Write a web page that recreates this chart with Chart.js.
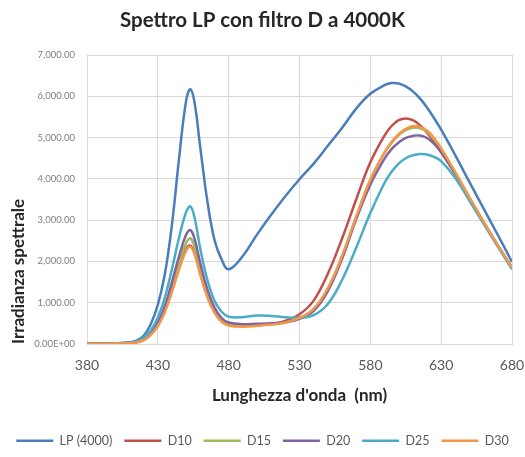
<!DOCTYPE html>
<html>
<head>
<meta charset="utf-8">
<script src="https://cdn.jsdelivr.net/npm/chart.js@4"></script>
<style>
  html, body { margin: 0; padding: 0; background: #ffffff; }
  canvas { display: block; }
</style>
</head>
<body>
<canvas id="spettroChart" width="525" height="457"></canvas>
<script>
// lunghezze d'onda (nm)
const wavelengths = [380, 390, 400, 410, 415, 420, 425, 430, 435, 440, 445, 450, 453, 456, 460, 465, 470, 475, 480,
  490, 500, 510, 520, 530, 540, 550, 560, 570, 580, 590, 595, 600, 605, 610, 615, 620, 625, 630, 640, 650, 660, 670, 680];

const lp4000 = [10, 10, 15, 40, 80, 200, 480, 950, 1700, 2900, 4500, 5900, 6170, 5830, 4750, 3450, 2520, 2050, 1810,
  2130, 2650, 3130, 3580, 3990, 4370, 4800, 5230, 5700, 6060, 6270, 6320, 6310, 6240, 6120, 5950, 5730, 5470, 5190, 4570, 3920, 3280, 2640, 1990];
const d10 = [5, 5, 10, 20, 40, 100, 230, 450, 800, 1300, 1850, 2300, 2380, 2200, 1700, 1150, 780, 560, 470,
  440, 460, 490, 560, 720, 1050, 1700, 2550, 3500, 4400, 5050, 5280, 5420, 5460, 5420, 5300, 5120, 4900, 4640, 4120, 3520, 2940, 2380, 1860];
const d15 = [5, 5, 10, 20, 45, 110, 250, 480, 850, 1380, 1970, 2450, 2560, 2350, 1800, 1220, 820, 590, 490,
  455, 470, 480, 520, 620, 840, 1340, 2120, 3080, 3980, 4630, 4870, 5060, 5180, 5240, 5230, 5140, 4960, 4720, 4150, 3540, 2950, 2390, 1850];
const d20 = [5, 5, 10, 25, 50, 120, 270, 520, 920, 1500, 2130, 2650, 2760, 2540, 1950, 1320, 880, 630, 520,
  480, 490, 500, 530, 610, 800, 1280, 2060, 3020, 3860, 4490, 4720, 4880, 4990, 5040, 5050, 4990, 4850, 4650, 4120, 3520, 2940, 2380, 1830];
const d25 = [5, 5, 12, 30, 60, 150, 330, 640, 1130, 1820, 2580, 3200, 3330, 3050, 2300, 1550, 1050, 780, 660,
  650, 690, 680, 650, 640, 700, 970, 1550, 2330, 3170, 3900, 4170, 4370, 4500, 4570, 4600, 4590, 4530, 4430, 4020, 3470, 2910, 2360, 1810];
const d30 = [5, 5, 10, 20, 40, 95, 220, 430, 780, 1270, 1810, 2260, 2350, 2170, 1680, 1130, 760, 540, 450,
  420, 440, 470, 520, 630, 850, 1350, 2130, 3080, 3970, 4640, 4890, 5080, 5210, 5280, 5260, 5170, 4990, 4740, 4160, 3550, 2960, 2390, 1850];

const seriesNames = ["LP (4000)", "D10", "D15", "D20", "D25", "D30"];
const seriesValues = [lp4000, d10, d15, d20, d25, d30];
const seriesColors = ["#4a7ebb", "#c0504d", "#9bbb59", "#8064a2", "#4bacc6", "#f79646"];

const xTickValues = [380, 430, 480, 530, 580, 630, 680];
const yTickValues = [0, 1000, 2000, 3000, 4000, 5000, 6000, 7000];
const yTickLabels = ["0.00E+00", "1,000.00", "2,000.00", "3,000.00", "4,000.00", "5,000.00", "6,000.00", "7,000.00"];

const gridColor = "#d9d9d9";

const datasets = seriesNames.map((name, i) => ({
  label: name,
  data: wavelengths.map((w, j) => ({ x: w, y: seriesValues[i][j] })),
  borderColor: seriesColors[i],
  backgroundColor: seriesColors[i],
  borderWidth: 2.5,
  pointRadius: 0,
  tension: 0.4,
  fill: false,
  // later series drawn on top
  order: seriesNames.length - i,
}));

const ctx = document.getElementById("spettroChart").getContext("2d");
new Chart(ctx, {
  type: "line",
  data: { datasets: datasets },
  options: {
    responsive: false,
    animation: false,
    devicePixelRatio: 1,
    layout: { padding: 0 },
    plugins: {
      title: {
        display: true,
        text: "Spettro LP con filtro D a 4000K",
        color: "#262626",
        font: { family: "Lato", size: 20.5, weight: "bold" },
        padding: { top: 7.7, bottom: 22.7 },
      },
      legend: {
        position: "bottom",
        labels: {
          boxWidth: 37,
          boxHeight: 0,
          padding: 12,
          color: "#595959",
          font: { family: "Lato", size: 12.5 },
          sort: (a, b) => a.datasetIndex - b.datasetIndex,
        },
      },
      tooltip: { enabled: false },
    },
    scales: {
      x: {
        type: "linear",
        min: 380,
        max: 680,
        afterBuildTicks: (scale) => {
          scale.ticks = xTickValues.map((v) => ({ value: v }));
        },
        afterFit: (scale) => {
          scale.height = 78.5;
          scale.paddingLeft = 0;
          scale.paddingRight = 0;
        },
        ticks: {
          padding: 13,
          color: "#595959",
          font: { family: "Lato", size: 14 },
          callback: (value) => String(value),
        },
        grid: { color: gridColor, drawTicks: false },
        border: { color: gridColor },
        title: {
          display: true,
          text: "Lunghezza d'onda  (nm)",
          color: "#262626",
          font: { family: "Lato", size: 17, weight: "bold" },
          padding: { top: 0, bottom: 16.3 },
        },
      },
      y: {
        min: 0,
        max: 7000,
        afterBuildTicks: (scale) => {
          scale.ticks = yTickValues.map((v) => ({ value: v }));
        },
        afterFit: (scale) => {
          scale.width = 87;
        },
        ticks: {
          padding: 12,
          color: "#7f7f7f",
          font: { family: "Lato", size: 9.5 },
          callback: (value, index) => yTickLabels[index],
        },
        grid: { color: gridColor, drawTicks: false },
        border: { color: gridColor },
        title: {
          display: true,
          text: "Irradianza spettrale",
          align: "start",
          color: "#262626",
          font: { family: "Lato", size: 17, weight: "bold" },
          padding: { top: 8, bottom: 0 },
        },
      },
      // empty margin on the right of the plot
      yRight: {
        position: "right",
        afterFit: (scale) => {
          scale.width = 13;
        },
        ticks: { display: false },
        grid: { display: false },
        border: { display: false },
      },
    },
  },
});
</script>
</body>
</html>
